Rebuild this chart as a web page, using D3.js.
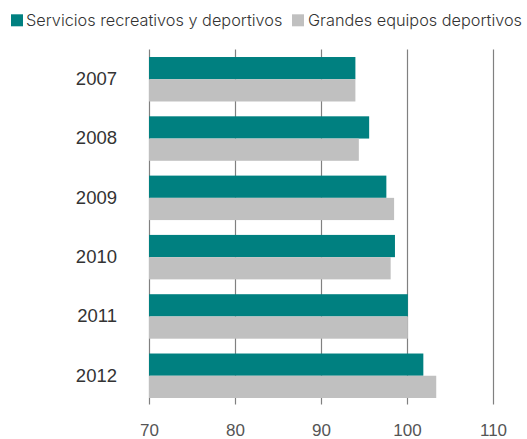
<!DOCTYPE html>
<html>
<head>
<meta charset="utf-8">
<script src="https://cdn.jsdelivr.net/npm/d3@7"></script>
<style>
  body { margin: 0; background: #fff; }
  svg { display: block; font-family: Inter, "Open Sans", sans-serif; }
</style>
</head>
<body>
<svg></svg>
<script>
// chart data
const years = ['2007', '2008', '2009', '2010', '2011', '2012'];
const servicios = [94.0, 95.6, 97.6, 98.6, 100.1, 101.9];
const equipos = [94.0, 94.4, 98.5, 98.1, 100.1, 103.4];
const seriesNames = ['Servicios recreativos y deportivos', 'Grandes equipos deportivos'];
const seriesColors = ['#008080', '#c0c0c0'];
const xTicks = [70, 80, 90, 100, 110];

const width = 527, height = 439;
const plotTop = 49.6, plotBottom = 405.4;
const svg = d3.select('svg')
    .attr('width', width)
    .attr('height', height);

let xScale = d3.scaleLinear()
    .domain([70, 110])
    .range([149, 493]);

let yScale = d3.scaleBand()
    .domain(years)
    .range([plotTop, plotBottom])
    .paddingInner(0.25)
    .paddingOuter(0.125);

let subScale = d3.scaleBand()
    .domain([0, 1])
    .range([0, yScale.bandwidth()]);

// gridlines (behind the bars)
let xAxis = d3.axisBottom(xScale)
    .tickValues(xTicks)
    .tickSize(-(plotBottom - plotTop))
    .tickSizeOuter(0)
    .tickPadding(19);

let gx = svg.append('g')
    .attr('transform', `translate(0, ${plotBottom})`)
    .call(xAxis);
gx.select('.domain').remove();
gx.selectAll('.tick line')
    .attr('stroke', '#808080')
    .attr('stroke-width', 1.2)
    .attr('y1', -1);
gx.selectAll('.tick text')
    .attr('fill', '#555')
    .style('font-weight', 300)
    .style('font-size', '17px');

// bars
let groups = svg.append('g')
    .selectAll('g')
    .data(years)
    .enter()
    .append('g')
    .attr('transform', d => `translate(0, ${yScale(d)})`);

groups.selectAll('rect')
    .data((d, i) => [servicios[i], equipos[i]])
    .enter()
    .append('rect')
    .attr('x', xScale(70))
    .attr('y', (d, j) => subScale(j))
    .attr('width', d => xScale(d) - xScale(70))
    .attr('height', subScale.bandwidth())
    .attr('fill', (d, j) => seriesColors[j]);

// y axis labels
let yAxis = d3.axisLeft(yScale)
    .tickSize(0)
    .tickPadding(32);
let gy = svg.append('g')
    .attr('transform', `translate(${xScale(70)}, 0)`)
    .call(yAxis);
gy.select('.domain').remove();
gy.selectAll('.tick text')
    .attr('fill', '#333')
    .style('font-weight', 300)
    .style('font-size', '18.5px');

// legend
let legend = svg.append('g');
let lx = [11, 292];
seriesNames.forEach((name, i) => {
    legend.append('rect')
        .attr('x', lx[i])
        .attr('y', 14.3)
        .attr('width', 12)
        .attr('height', 12)
        .attr('fill', seriesColors[i]);
    legend.append('text')
        .attr('x', lx[i] + (i ? 16 : 15))
        .attr('y', 26)
        .attr('fill', '#333')
        .style('font-weight', 300)
        .style('font-size', '16.3px')
        .text(name);
});
</script>
</body>
</html>
